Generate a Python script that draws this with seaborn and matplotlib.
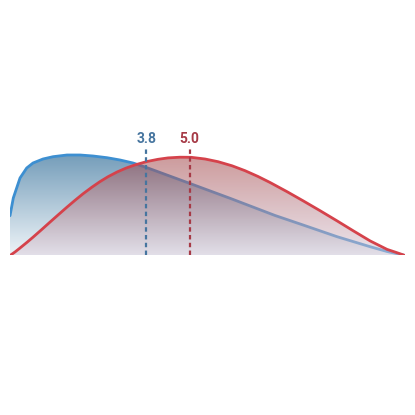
import numpy as np
import pandas as pd
import matplotlib
matplotlib.use("Agg")
import matplotlib.pyplot as plt
import seaborn as sns

# ---- data ----
blue_x = [0.0, 0.092, 0.279, 0.465, 0.641, 0.919, 1.198, 1.588, 1.950, 2.312, 2.702,
          3.064, 3.426, 3.816, 5.042, 6.128, 7.382, 8.162, 9.109, 10.028, 10.501, 11.0]
blue_y = [0.398, 0.575, 0.775, 0.875, 0.925, 0.965, 0.988, 1.005, 1.005, 0.995, 0.978,
          0.955, 0.925, 0.878, 0.716, 0.572, 0.400, 0.305, 0.188, 0.088, 0.040, 0.0]
red_x = [0.0, 0.139, 0.279, 0.474, 0.641, 0.891, 1.114, 1.337, 1.588, 1.811, 2.033,
         2.284, 2.507, 2.730, 2.981, 3.231, 3.482, 3.816, 4.123, 4.401, 4.735, 5.042,
         5.432, 5.794, 6.184, 6.546, 6.908, 7.242, 7.716, 8.162, 8.635, 9.109, 9.554,
         10.028, 10.501, 10.752, 11.0]
red_y = [0.0, 0.035, 0.075, 0.132, 0.183, 0.262, 0.334, 0.405, 0.484, 0.552, 0.617,
         0.684, 0.739, 0.788, 0.835, 0.874, 0.906, 0.940, 0.962, 0.976, 0.983, 0.982,
         0.965, 0.938, 0.897, 0.848, 0.790, 0.730, 0.638, 0.547, 0.448, 0.346, 0.248,
         0.146, 0.061, 0.031, 0.0]
mean_values = [3.8, 5.0]
mean_labels = ["3.8", "5.0"]

sns.set_style("white")
plt.rcParams['font.family'] = ['Roboto', 'DejaVu Sans']

fig = plt.figure(figsize=(4.15, 4.15), dpi=100)
ax = fig.add_axes([10 / 415, 159.5 / 415, 395 / 415, 160 / 415])
ax.set_xlim(0, 11)
ax.set_ylim(0, 1.6)
ax.axis("off")


def gradient_fill(ax, x, y, top_rgba, bot_rgba, ymax, z):
    poly = ax.fill_between(x, 0, y, facecolor="none", edgecolor="none", zorder=z)
    n = 256
    t = np.linspace(0, 1, n)[:, None]  # 0 bottom -> 1 top
    top = np.array(top_rgba)
    bot = np.array(bot_rgba)
    grad = bot + (top - bot) * t
    img = ax.imshow(grad[:, None, :], extent=[min(x), max(x), 0, ymax], origin="lower",
                    aspect="auto", zorder=z, interpolation="bilinear")
    path = poly.get_paths()[0]
    img.set_clip_path(path, transform=ax.transData)


gradient_fill(ax, blue_x, blue_y, (115/255, 156/255, 185/255, 1.0),
              (238/255, 244/255, 248/255, 1.0), 1.01, 1)

df_b = pd.DataFrame({"x": blue_x, "y": blue_y})
sns.lineplot(data=df_b, x="x", y="y", ax=ax, color="#3d8fd1", lw=2.0, zorder=2, sort=False)

gradient_fill(ax, red_x, red_y, (158/255, 62/255, 64/255, 0.52),
              (216/255, 204/255, 219/255, 0.52), 0.985, 3)

df_r = pd.DataFrame({"x": red_x, "y": red_y})
sns.lineplot(data=df_r, x="x", y="y", ax=ax, color="#d5424b", lw=2.0, zorder=4, sort=False)

line_colors = ["#46759f", "#a63a46"]
for m, lab, c in zip(mean_values, mean_labels, line_colors):
    ax.plot([m, m], [0, 1.075], color=c, lw=1.6, linestyle=(0, (2.0, 1.5)), zorder=5)
    ax.text(m, 1.165, lab, color=c, ha="center", va="center", fontsize=10,
            fontweight="bold", zorder=6)

ax.set_xlabel("")
ax.set_ylabel("")
fig.savefig("out.png", dpi=100)
